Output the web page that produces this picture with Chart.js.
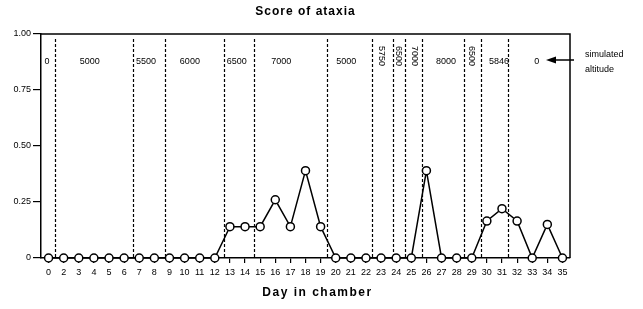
<!DOCTYPE html>
<html lang="en">
<head>
    <meta charset="UTF-8">
    <title>Score of ataxia</title>
    <script src="https://cdn.jsdelivr.net/npm/chart.js@4.4.1/dist/chart.umd.min.js"></script>
    <style>
        body { margin: 0; background: #fff; }
    </style>
</head>
<body>
    <canvas id="chart" width="643" height="309"></canvas>
    <script>
        // day 1 is missing on the original axis
        var days = ['0','2','3','4','5','6','7','8','9','10','11','12','13','14','15','16','17','18',
                    '19','20','21','22','23','24','25','26','27','28','29','30','31','32','33','34','35']
        var scores = [0,0,0,0,0,0,0,0,0,0,0,0,
                      0.14,0.14,0.14,0.26,0.14,0.39,0.14,
                      0,0,0,0,0,0,
                      0.39,
                      0,0,0,
                      0.165,0.22,0.165,
                      0,0.15,0]

        // altitude changes, in positions along the day axis (index units)
        var altitudeBreaks = [0.42, 5.6, 7.7, 11.6, 13.6, 18.4, 21.4, 22.8, 23.6, 24.7, 27.5, 28.6, 30.4]
        var altitudeLabels = ['0','5000','5500','6000','6500','7000','5000','5750','6500','7000','8000','6500','5846','0']
        var altitudeLabelAt = [-0.1, 2.73, 6.45, 9.35, 12.45, 15.4, 19.7, 22.0, 23.15, 24.2, 26.3, 28.0, 29.8, 32.3]

        var FONT = "'Liberation Sans', Arial, Helvetica, sans-serif"

        var annotate = {
            id: 'annotate',
            beforeDatasetsDraw: function(chart) {
                var ctx = chart.ctx, a = chart.chartArea, x = chart.scales.x
                ctx.save()
                ctx.strokeStyle = '#000'
                ctx.lineWidth = 1.2
                ctx.setLineDash([3, 2])
                for (var b of altitudeBreaks) {
                    var px = Math.round(x.getPixelForValue(b)) + 0.5
                    ctx.beginPath()
                    ctx.moveTo(px, a.top + 5)
                    ctx.lineTo(px, a.bottom)
                    ctx.stroke()
                }
                ctx.restore()
            },
            afterDraw: function(chart) {
                var ctx = chart.ctx, a = chart.chartArea, x = chart.scales.x
                ctx.save()
                // top and right frame
                ctx.strokeStyle = '#000'
                ctx.lineWidth = 1.5
                ctx.beginPath()
                ctx.moveTo(a.left, a.top)
                ctx.lineTo(a.right, a.top)
                ctx.lineTo(a.right, a.bottom)
                ctx.stroke()

                // altitude labels, turned on their side when the band is too narrow
                ctx.fillStyle = '#000'
                ctx.font = '9px ' + FONT
                ctx.textAlign = 'center'
                ctx.textBaseline = 'middle'
                for (var i = 0; i < altitudeLabels.length; i++) {
                    var lo = i === 0 ? -0.5 : altitudeBreaks[i - 1]
                    var hi = i < altitudeBreaks.length ? altitudeBreaks[i] : days.length - 0.5
                    var w = x.getPixelForValue(hi) - x.getPixelForValue(lo)
                    var px = x.getPixelForValue(altitudeLabelAt[i])
                    if (ctx.measureText(altitudeLabels[i]).width > w - 3) {
                        ctx.save()
                        ctx.translate(px, a.top + 22)
                        ctx.rotate(Math.PI / 2)
                        ctx.fillText(altitudeLabels[i], 0, 0)
                        ctx.restore()
                    } else {
                        ctx.fillText(altitudeLabels[i], px, a.top + 28)
                    }
                }

                // arrow + note
                var ay = a.top + 26
                ctx.lineWidth = 1.5
                ctx.beginPath()
                ctx.moveTo(a.right + 4, ay)
                ctx.lineTo(a.right - 16, ay)
                ctx.stroke()
                ctx.beginPath()
                ctx.moveTo(a.right - 24, ay)
                ctx.lineTo(a.right - 14, ay - 3.5)
                ctx.lineTo(a.right - 14, ay + 3.5)
                ctx.closePath()
                ctx.fill()
                ctx.textAlign = 'left'
                ctx.fillText('simulated', a.right + 15, a.top + 21)
                ctx.fillText('altitude', a.right + 15, a.top + 36)

                // titles
                ctx.font = 'bold 12px ' + FONT
                ctx.textAlign = 'center'
                ctx.letterSpacing = '1px'
                ctx.fillText('Score of ataxia', (a.left + a.right) / 2, 12)
                ctx.letterSpacing = '1.5px'
                ctx.fillText('Day in chamber', (a.left + a.right) / 2 + 12, 293)
                ctx.restore()
            }
        }

        var chart_data = {
            type: 'line',
            data: {
                labels: days,
                datasets: [
                    {
                        label: 'Score of ataxia',
                        data: scores,
                        borderColor: '#000',
                        borderWidth: 1.5,
                        tension: 0,
                        fill: false,
                        clip: false,
                        pointRadius: 4,
                        pointBackgroundColor: '#fff',
                        pointBorderColor: '#000',
                        pointBorderWidth: 1.5
                    }
                ]
            },
            options: {
                responsive: false,
                animation: false,
                layout: { padding: { top: 34, right: 73, left: 0, bottom: 0 } },
                plugins: {
                    legend: { display: false },
                    tooltip: { enabled: false }
                },
                scales: {
                    x: {
                        type: 'category',
                        offset: true,
                        afterFit: function(s) { s.height = 51 },
                        grid: { drawOnChartArea: false, tickLength: 5, color: '#000', lineWidth: 1.2 },
                        border: { color: '#000', width: 1.5 },
                        ticks: {
                            color: '#000',
                            font: { family: FONT, size: 9 },
                            padding: 4,
                            maxRotation: 0,
                            autoSkip: false
                        }
                    },
                    y: {
                        min: 0,
                        max: 1,
                        afterFit: function(s) { s.width = 41 },
                        grid: { drawOnChartArea: false, tickLength: 8, color: '#000', lineWidth: 1.2 },
                        border: { color: '#000', width: 1.5 },
                        ticks: {
                            stepSize: 0.25,
                            color: '#000',
                            padding: 2,
                            font: { family: FONT, size: 9 },
                            callback: function(v) { return v === 0 ? '0' : v.toFixed(2) }
                        }
                    }
                }
            },
            plugins: [annotate]
        }

        window.addEventListener('load', function() {
            new Chart(document.getElementById('chart'), chart_data)
        })
    </script>
</body>
</html>
